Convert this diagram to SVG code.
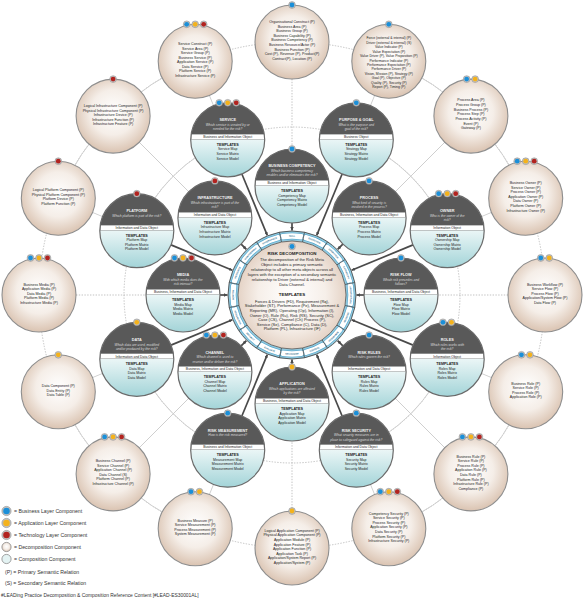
<svg xmlns="http://www.w3.org/2000/svg" xmlns:xlink="http://www.w3.org/1999/xlink" width="584" height="599" viewBox="0 0 584 599">
<style>
text{font-family:"Liberation Sans",Arial,sans-serif;text-anchor:middle}
.ct{font-size:3.8px;font-weight:bold;fill:#f2f2f2}
.cq{font-size:3.3px;font-style:italic;fill:#dcdcdc}
.cb{font-size:3.4px;fill:#222}
.th{font-size:3.7px;font-weight:bold;fill:#222}
.tl{font-size:3.5px;fill:#222}
.dt{font-size:3.6px;fill:#222}
.lg{font-size:5.2px;fill:#333;text-anchor:start}
.rl{font-size:2.2px;font-weight:bold;fill:#2b6a8a}
.mt{font-size:4.4px;font-weight:bold;fill:#222}
.md{font-size:4px;fill:#222}
.arc-d{fill:none;stroke:#b4b4b4;stroke-width:.8;stroke-dasharray:1.4 1.4}
.arc-s{fill:none;stroke:#cdcdcd;stroke-width:.9}
.rad-d{stroke:#b4b4b4;stroke-width:.8;stroke-dasharray:1.4 1.4}
.rad-s{stroke:#cdcdcd;stroke-width:.9}
.thick{stroke:#4a4a4a;stroke-width:1.7;marker-end:url(#ah)}
.tick{stroke:#3f3f3f;stroke-width:.7}
</style>
<defs>
<radialGradient id="beige" cx="50%" cy="45%" r="55%"><stop offset="0" stop-color="#ffffff"/><stop offset=".55" stop-color="#f5eee8"/><stop offset="1" stop-color="#dac3b1"/></radialGradient>
<radialGradient id="beigeC" cx="50%" cy="50%" r="52%"><stop offset="0" stop-color="#ffffff"/><stop offset=".6" stop-color="#f6efe9"/><stop offset="1" stop-color="#e3d0c2"/></radialGradient>
<linearGradient id="teal" x1="0" y1="0" x2="0" y2="1"><stop offset=".45" stop-color="#f1f9f9"/><stop offset="1" stop-color="#a3d4d8"/></linearGradient>
<marker id="ah" viewBox="0 0 6 6" refX="6" refY="3" markerWidth="3.5" markerHeight="3.5" markerUnits="userSpaceOnUse" orient="auto"><path d="M0,0 L6,3 L0,6 z" fill="#4a4a4a"/></marker>
<g id="comp">
<circle r="37" fill="url(#teal)"/>
<path d="M-36.59,-5.5 A37,37 0 0 1 36.59,-5.5 Z" fill="#595959"/>
<rect x="-36.6" y="-5.5" width="73.2" height="5" fill="#fff" stroke="#777" stroke-width=".4"/>
<circle r="37" fill="none" stroke="#6a6a6a" stroke-width="1.2"/>
</g>
<circle id="deco" r="37" fill="url(#beige)" stroke="#8e8e8e" stroke-width="1.1"/>
<g id="dB"><circle r="3.4" fill="#c4c4c4" stroke="#8a8a8a" stroke-width=".5"/><circle r="2.4" fill="#1b8fd8"/></g>
<g id="dY"><circle r="3.4" fill="#c4c4c4" stroke="#8a8a8a" stroke-width=".5"/><circle r="2.4" fill="#f4b21c"/></g>
<g id="dR"><circle r="3.4" fill="#c4c4c4" stroke="#8a8a8a" stroke-width=".5"/><circle r="2.4" fill="#b2231f"/></g>
<g id="pill"><path d="M282.77,236.73 A59,59 0 0 1 301.23,236.73" fill="none" stroke="#4a9fc8" stroke-width="6.4" stroke-linecap="round"/><path d="M282.77,236.73 A59,59 0 0 1 301.23,236.73" fill="none" stroke="#fff" stroke-width="5.4" stroke-linecap="round"/></g>
<path id="rcw" d="M292,353.2 A58.2,58.2 0 1 1 292,236.8 A58.2,58.2 0 1 1 292,353.2"/>
<path id="rccw" d="M292,235.2 A59.8,59.8 0 1 0 292,354.8 A59.8,59.8 0 1 0 292,235.2"/>
</defs>
<rect width="584" height="599" fill="#fff"/>

<g id="connectors">
<circle cx="292" cy="295" r="253" class="arc-d"/>
<path class="arc-s" d="M388.82,61.26 A253,253 0 0 1 525.74,198.18"/>
<path class="arc-s" d="M525.74,391.82 A253,253 0 0 1 388.82,528.74"/>
<path class="arc-s" d="M195.18,528.74 A253,253 0 0 1 58.26,391.82"/>
<path class="arc-s" d="M58.26,198.18 A253,253 0 0 1 195.18,61.26"/>
<circle cx="292" cy="295" r="168" class="arc-d"/>
<path class="arc-s" d="M356.29,139.79 A168,168 0 0 1 447.21,230.71"/>
<path class="arc-s" d="M447.21,359.29 A168,168 0 0 1 356.29,450.21"/>
<path class="arc-s" d="M227.71,450.21 A168,168 0 0 1 136.79,359.29"/>
<path class="arc-s" d="M136.79,230.71 A168,168 0 0 1 227.71,139.79"/>
<line class="rad-d" x1="292" y1="79" x2="292" y2="149"/>
<line class="rad-d" x1="292" y1="79" x2="292" y2="149" transform="rotate(90 292 295)"/>
<line class="rad-d" x1="292" y1="79" x2="292" y2="149" transform="rotate(180 292 295)"/>
<line class="rad-d" x1="292" y1="79" x2="292" y2="149" transform="rotate(270 292 295)"/>
<line class="rad-s" x1="292" y1="79" x2="292" y2="149" transform="rotate(45 292 295)"/>
<line class="rad-s" x1="292" y1="79" x2="292" y2="149" transform="rotate(135 292 295)"/>
<line class="rad-s" x1="292" y1="79" x2="292" y2="149" transform="rotate(225 292 295)"/>
<line class="rad-s" x1="292" y1="79" x2="292" y2="149" transform="rotate(315 292 295)"/>
<line class="rad-s" x1="292" y1="79" x2="292" y2="90" transform="rotate(22.5 292 295)"/>
<line class="rad-s" x1="292" y1="79" x2="292" y2="90" transform="rotate(67.5 292 295)"/>
<line class="rad-s" x1="292" y1="79" x2="292" y2="90" transform="rotate(112.5 292 295)"/>
<line class="rad-s" x1="292" y1="79" x2="292" y2="90" transform="rotate(157.5 292 295)"/>
<line class="rad-s" x1="292" y1="79" x2="292" y2="90" transform="rotate(202.5 292 295)"/>
<line class="rad-s" x1="292" y1="79" x2="292" y2="90" transform="rotate(247.5 292 295)"/>
<line class="rad-s" x1="292" y1="79" x2="292" y2="90" transform="rotate(292.5 292 295)"/>
<line class="rad-s" x1="292" y1="79" x2="292" y2="90" transform="rotate(337.5 292 295)"/>
<line class="thick" x1="292" y1="164" x2="292" y2="230.5" transform="rotate(22.5 292 295)"/>
<line class="thick" x1="292" y1="164" x2="292" y2="230.5" transform="rotate(67.5 292 295)"/>
<line class="thick" x1="292" y1="164" x2="292" y2="230.5" transform="rotate(112.5 292 295)"/>
<line class="thick" x1="292" y1="164" x2="292" y2="230.5" transform="rotate(157.5 292 295)"/>
<line class="thick" x1="292" y1="164" x2="292" y2="230.5" transform="rotate(202.5 292 295)"/>
<line class="thick" x1="292" y1="164" x2="292" y2="230.5" transform="rotate(247.5 292 295)"/>
<line class="thick" x1="292" y1="164" x2="292" y2="230.5" transform="rotate(292.5 292 295)"/>
<line class="thick" x1="292" y1="164" x2="292" y2="230.5" transform="rotate(337.5 292 295)"/>
<line class="thick" x1="292" y1="222" x2="292" y2="230.5"/>
<line class="thick" x1="292" y1="222" x2="292" y2="230.5" transform="rotate(45 292 295)"/>
<line class="thick" x1="292" y1="222" x2="292" y2="230.5" transform="rotate(90 292 295)"/>
<line class="thick" x1="292" y1="222" x2="292" y2="230.5" transform="rotate(135 292 295)"/>
<line class="thick" x1="292" y1="222" x2="292" y2="230.5" transform="rotate(180 292 295)"/>
<line class="thick" x1="292" y1="222" x2="292" y2="230.5" transform="rotate(225 292 295)"/>
<line class="thick" x1="292" y1="222" x2="292" y2="230.5" transform="rotate(270 292 295)"/>
<line class="thick" x1="292" y1="222" x2="292" y2="230.5" transform="rotate(315 292 295)"/>
</g>

<g id="n-center">
<circle cx="292" cy="295" r="64" fill="#8fc9df" stroke="#4d4d4d" stroke-width=".9"/>
<use href="#pill"/>
<use href="#pill" transform="rotate(22.5 292 295)"/>
<use href="#pill" transform="rotate(45 292 295)"/>
<use href="#pill" transform="rotate(67.5 292 295)"/>
<use href="#pill" transform="rotate(90 292 295)"/>
<use href="#pill" transform="rotate(112.5 292 295)"/>
<use href="#pill" transform="rotate(135 292 295)"/>
<use href="#pill" transform="rotate(157.5 292 295)"/>
<use href="#pill" transform="rotate(180 292 295)"/>
<use href="#pill" transform="rotate(202.5 292 295)"/>
<use href="#pill" transform="rotate(225 292 295)"/>
<use href="#pill" transform="rotate(247.5 292 295)"/>
<use href="#pill" transform="rotate(270 292 295)"/>
<use href="#pill" transform="rotate(292.5 292 295)"/>
<use href="#pill" transform="rotate(315 292 295)"/>
<use href="#pill" transform="rotate(337.5 292 295)"/>
<g class="tick">
<line x1="292" y1="241" x2="292" y2="231" transform="rotate(11.25 292 295)"/>
<line x1="292" y1="241" x2="292" y2="231" transform="rotate(33.75 292 295)"/>
<line x1="292" y1="241" x2="292" y2="231" transform="rotate(56.25 292 295)"/>
<line x1="292" y1="241" x2="292" y2="231" transform="rotate(78.75 292 295)"/>
<line x1="292" y1="241" x2="292" y2="231" transform="rotate(101.25 292 295)"/>
<line x1="292" y1="241" x2="292" y2="231" transform="rotate(123.75 292 295)"/>
<line x1="292" y1="241" x2="292" y2="231" transform="rotate(146.25 292 295)"/>
<line x1="292" y1="241" x2="292" y2="231" transform="rotate(168.75 292 295)"/>
<line x1="292" y1="241" x2="292" y2="231" transform="rotate(191.25 292 295)"/>
<line x1="292" y1="241" x2="292" y2="231" transform="rotate(213.75 292 295)"/>
<line x1="292" y1="241" x2="292" y2="231" transform="rotate(236.25 292 295)"/>
<line x1="292" y1="241" x2="292" y2="231" transform="rotate(258.75 292 295)"/>
<line x1="292" y1="241" x2="292" y2="231" transform="rotate(281.25 292 295)"/>
<line x1="292" y1="241" x2="292" y2="231" transform="rotate(303.75 292 295)"/>
<line x1="292" y1="241" x2="292" y2="231" transform="rotate(326.25 292 295)"/>
<line x1="292" y1="241" x2="292" y2="231" transform="rotate(348.75 292 295)"/>
</g>
<text class="rl"><textPath href="#rcw" startOffset="25%">MONITOR</textPath></text>
<text class="rl"><textPath href="#rcw" startOffset="31.25%">RESOURCE</textPath></text>
<text class="rl"><textPath href="#rcw" startOffset="37.5%">MANAGEMENT</textPath></text>
<text class="rl"><textPath href="#rcw" startOffset="43.75%">GOVERNANCE</textPath></text>
<text class="rl"><textPath href="#rcw" startOffset="50%">SKILL</textPath></text>
<text class="rl"><textPath href="#rcw" startOffset="56.25%">EXECUTION</textPath></text>
<text class="rl"><textPath href="#rcw" startOffset="62.5%">OPERATION</textPath></text>
<text class="rl"><textPath href="#rcw" startOffset="68.75%">CAPABILITY</textPath></text>
<text class="rl"><textPath href="#rcw" startOffset="75%">ARCHITECTURE</textPath></text>
<text class="rl"><textPath href="#rccw" startOffset="68.75%">MEASURE</textPath></text>
<text class="rl"><textPath href="#rccw" startOffset="62.5%">ASSURANCE</textPath></text>
<text class="rl"><textPath href="#rccw" startOffset="56.25%">CONTROL</textPath></text>
<text class="rl"><textPath href="#rccw" startOffset="50%">MECHANISM</textPath></text>
<text class="rl"><textPath href="#rccw" startOffset="43.75%">EVALUATE</textPath></text>
<text class="rl"><textPath href="#rccw" startOffset="37.5%">SECURITY</textPath></text>
<text class="rl"><textPath href="#rccw" startOffset="31.25%">INTEGRATION</textPath></text>
<circle cx="292" cy="295" r="54" fill="url(#beigeC)" stroke="#555" stroke-width=".8"/>
<use href="#dB" x="292" y="246.5"/>
<text class="mt" x="292" y="254.6">RISK DECOMPOSITION</text>
<text class="md"><tspan x="292" y="260.7">The decomposition of the Risk Meta</tspan><tspan x="292" y="265.7">Object includes a primary semantic</tspan><tspan x="292" y="270.7">relationship to all other meta objects across all</tspan><tspan x="292" y="275.7">layers with the exception of a secondary semantic</tspan><tspan x="292" y="280.7">relationship to Driver (external &amp; internal) and</tspan><tspan x="292" y="285.7">Data Channel.</tspan></text>
<text class="mt" x="292" y="296.2">TEMPLATES</text>
<text class="md"><tspan x="292" y="302.7">Forces &amp; Drivers (FD), Requirement (Rq),</tspan><tspan x="292" y="307.3">Stakeholder (ST), Performance (Pe), Measurement &amp;</tspan><tspan x="292" y="311.9">Reporting (MR), Operating (Op), Information (I),</tspan><tspan x="292" y="316.5">Owner (O), Rule (Ru), Risk (RS), Security (SC),</tspan><tspan x="292" y="321.1">Case (CS), Channel (Ch) Process (P),</tspan><tspan x="292" y="325.7">Service (Se), Compliance (C), Data (D),</tspan><tspan x="292" y="330.3">Platform (PL), Infrastructure (IF)</tspan></text>
</g>

<g id="n-competency" transform="translate(292,186)"><use href="#comp"/><use href="#dB" y="-37"/>
<text class="ct" y="-18.6">BUSINESS COMPETENCY</text>
<text class="cq"><tspan x="0" y="-13.8">Which business competency</tspan><tspan x="0" y="-9.6">enables and/or eliminates the risk?</tspan></text>
<text class="cb" y="-1.8">Business and Information Object</text>
<text class="th" y="6">TEMPLATES</text>
<text class="tl"><tspan x="0" y="10.6">Competency Map</tspan><tspan x="0" y="15.2">Competency Matrix</tspan><tspan x="0" y="19.8">Competency Model</tspan></text></g>

<g id="n-purpose" transform="translate(356.3,139.8)"><use href="#comp"/><use href="#dB" y="-37"/>
<text class="ct" y="-18.6">PURPOSE &amp; GOAL</text>
<text class="cq"><tspan x="0" y="-13.8">What is the purpose and</tspan><tspan x="0" y="-9.6">goal of the risk?</tspan></text>
<text class="cb" y="-1.8">Business Object</text>
<text class="th" y="6">TEMPLATES</text>
<text class="tl"><tspan x="0" y="10.6">Strategy Map</tspan><tspan x="0" y="15.2">Strategy Matrix</tspan><tspan x="0" y="19.8">Strategy Model</tspan></text></g>

<g id="n-process" transform="translate(369.1,217.9)"><use href="#comp"/><use href="#dB" y="-37"/>
<text class="ct" y="-18.6">PROCESS</text>
<text class="cq"><tspan x="0" y="-13.8">What kind of security is</tspan><tspan x="0" y="-9.6">involved in the process?</tspan></text>
<text class="cb" y="-1.8">Business, Information and Data Object</text>
<text class="th" y="6">TEMPLATES</text>
<text class="tl"><tspan x="0" y="10.6">Process Map</tspan><tspan x="0" y="15.2">Process Matrix</tspan><tspan x="0" y="19.8">Process Model</tspan></text></g>

<g id="n-owner" transform="translate(447.2,230.7)"><use href="#comp"/><use href="#dB" x="-8.5" y="-37"/><use href="#dY" y="-37"/><use href="#dR" x="8.5" y="-37"/>
<text class="ct" y="-18.6">OWNER</text>
<text class="cq"><tspan x="0" y="-13.8">Who is the owner of the</tspan><tspan x="0" y="-9.6">risk?</tspan></text>
<text class="cb" y="-1.8">Information Object</text>
<text class="th" y="6">TEMPLATES</text>
<text class="tl"><tspan x="0" y="10.6">Ownership Map</tspan><tspan x="0" y="15.2">Ownership Matrix</tspan><tspan x="0" y="19.8">Ownership Model</tspan></text></g>

<g id="n-riskflow" transform="translate(401,295)"><use href="#comp"/><use href="#dB" y="-37"/>
<text class="ct" y="-18.6">RISK FLOW</text>
<text class="cq"><tspan x="0" y="-13.8">Which risk precedes and</tspan><tspan x="0" y="-9.6">follows?</tspan></text>
<text class="cb" y="-1.8">Business, Information and Data Object</text>
<text class="th" y="6">TEMPLATES</text>
<text class="tl"><tspan x="0" y="10.6">Flow Map</tspan><tspan x="0" y="15.2">Flow Matrix</tspan><tspan x="0" y="19.8">Flow Model</tspan></text></g>

<g id="n-roles" transform="translate(447.2,359.3)"><use href="#comp"/><use href="#dB" x="-4.25" y="-37"/><use href="#dY" x="4.25" y="-37"/>
<text class="ct" y="-18.6">ROLES</text>
<text class="cq"><tspan x="0" y="-13.8">Which roles works with</tspan><tspan x="0" y="-9.6">the risk?</tspan></text>
<text class="cb" y="-1.8">Information Object</text>
<text class="th" y="6">TEMPLATES</text>
<text class="tl"><tspan x="0" y="10.6">Roles Map</tspan><tspan x="0" y="15.2">Roles Matrix</tspan><tspan x="0" y="19.8">Roles Model</tspan></text></g>

<g id="n-riskrules" transform="translate(369.1,372.1)"><use href="#comp"/><use href="#dB" y="-37"/>
<text class="ct" y="-18.6">RISK RULES</text>
<text class="cq"><tspan x="0" y="-13.8">Which rules govern the risk?</tspan></text>
<text class="cb" y="-1.8">Information and Data Object</text>
<text class="th" y="6">TEMPLATES</text>
<text class="tl"><tspan x="0" y="10.6">Rules Map</tspan><tspan x="0" y="15.2">Rules Matrix</tspan><tspan x="0" y="19.8">Rules Model</tspan></text></g>

<g id="n-security" transform="translate(356.3,450.2)"><use href="#comp"/><use href="#dB" y="-37"/>
<text class="ct" y="-18.6">RISK SECURITY</text>
<text class="cq"><tspan x="0" y="-13.8">What security measures are in</tspan><tspan x="0" y="-9.6">place to safeguard against the risk?</tspan></text>
<text class="cb" y="-1.8">Information and Data Object</text>
<text class="th" y="6">TEMPLATES</text>
<text class="tl"><tspan x="0" y="10.6">Security Map</tspan><tspan x="0" y="15.2">Security Matrix</tspan><tspan x="0" y="19.8">Security Model</tspan></text></g>

<g id="n-application" transform="translate(292,404)"><use href="#comp"/><use href="#dY" y="-37"/>
<text class="ct" y="-18.6">APPLICATION</text>
<text class="cq"><tspan x="0" y="-13.8">Which applications are affected</tspan><tspan x="0" y="-9.6">by the risk?</tspan></text>
<text class="cb" y="-1.8">Business, Information and Data Object</text>
<text class="th" y="6">TEMPLATES</text>
<text class="tl"><tspan x="0" y="10.6">Application Map</tspan><tspan x="0" y="15.2">Application Matrix</tspan><tspan x="0" y="19.8">Application Model</tspan></text></g>

<g id="n-measurement" transform="translate(227.7,450.2)"><use href="#comp"/><use href="#dB" y="-37"/>
<text class="ct" y="-18.6">RISK MEASUREMENT</text>
<text class="cq"><tspan x="0" y="-13.8">How is the risk measured?</tspan></text>
<text class="cb" y="-1.8">Business and Information Object</text>
<text class="th" y="6">TEMPLATES</text>
<text class="tl"><tspan x="0" y="10.6">Measurement Map</tspan><tspan x="0" y="15.2">Measurement Matrix</tspan><tspan x="0" y="19.8">Measurement Model</tspan></text></g>

<g id="n-channel" transform="translate(214.9,372.1)"><use href="#comp"/><use href="#dB" x="-8.5" y="-37"/><use href="#dY" y="-37"/><use href="#dR" x="8.5" y="-37"/>
<text class="ct" y="-18.6">CHANNEL</text>
<text class="cq"><tspan x="0" y="-13.8">Which channel is used to</tspan><tspan x="0" y="-9.6">receive and/or deliver the risk?</tspan></text>
<text class="cb" y="-1.8">Business, Information and Data Object</text>
<text class="th" y="6">TEMPLATES</text>
<text class="tl"><tspan x="0" y="10.6">Channel Map</tspan><tspan x="0" y="15.2">Channel Matrix</tspan><tspan x="0" y="19.8">Channel Model</tspan></text></g>

<g id="n-data" transform="translate(136.8,359.3)"><use href="#comp"/><use href="#dY" y="-37"/>
<text class="ct" y="-18.6">DATA</text>
<text class="cq"><tspan x="0" y="-13.8">Which data are used, modified</tspan><tspan x="0" y="-9.6">and/or produced by the risk?</tspan></text>
<text class="cb" y="-1.8">Information and Data Object</text>
<text class="th" y="6">TEMPLATES</text>
<text class="tl"><tspan x="0" y="10.6">Data Map</tspan><tspan x="0" y="15.2">Data Matrix</tspan><tspan x="0" y="19.8">Data Model</tspan></text></g>

<g id="n-media" transform="translate(183,295)"><use href="#comp"/><use href="#dB" x="-8.5" y="-37"/><use href="#dY" y="-37"/><use href="#dR" x="8.5" y="-37"/>
<text class="ct" y="-18.6">MEDIA</text>
<text class="cq"><tspan x="0" y="-13.8">With which media does the</tspan><tspan x="0" y="-9.6">risk interact?</tspan></text>
<text class="cb" y="-1.8">Business, Information and Data Object</text>
<text class="th" y="6">TEMPLATES</text>
<text class="tl"><tspan x="0" y="10.6">Media Map</tspan><tspan x="0" y="15.2">Media Matrix</tspan><tspan x="0" y="19.8">Media Model</tspan></text></g>

<g id="n-platform" transform="translate(136.8,230.7)"><use href="#comp"/><use href="#dR" y="-37"/>
<text class="ct" y="-18.6">PLATFORM</text>
<text class="cq"><tspan x="0" y="-13.8">Which platform is part of the risk?</tspan></text>
<text class="cb" y="-1.8">Information and Data Object</text>
<text class="th" y="6">TEMPLATES</text>
<text class="tl"><tspan x="0" y="10.6">Platform Map</tspan><tspan x="0" y="15.2">Platform Matrix</tspan><tspan x="0" y="19.8">Platform Model</tspan></text></g>

<g id="n-infrastructure" transform="translate(214.9,217.9)"><use href="#comp"/><use href="#dR" y="-37"/>
<text class="ct" y="-18.6">INFRASTRUCTURE</text>
<text class="cq"><tspan x="0" y="-13.8">Which infrastructure is part of the</tspan><tspan x="0" y="-9.6">risk?</tspan></text>
<text class="cb" y="-1.8">Information and Data Object</text>
<text class="th" y="6">TEMPLATES</text>
<text class="tl"><tspan x="0" y="10.6">Infrastructure Map</tspan><tspan x="0" y="15.2">Infrastructure Matrix</tspan><tspan x="0" y="19.8">Infrastructure Model</tspan></text></g>

<g id="n-service" transform="translate(227.7,139.8)"><use href="#comp"/><use href="#dB" x="-8.5" y="-37"/><use href="#dY" y="-37"/><use href="#dR" x="8.5" y="-37"/>
<text class="ct" y="-18.6">SERVICE</text>
<text class="cq"><tspan x="0" y="-13.8">Which service is created by or</tspan><tspan x="0" y="-9.6">needed for the risk?</tspan></text>
<text class="cb" y="-1.8">Business and Information Object</text>
<text class="th" y="6">TEMPLATES</text>
<text class="tl"><tspan x="0" y="10.6">Service Map</tspan><tspan x="0" y="15.2">Service Matrix</tspan><tspan x="0" y="19.8">Service Model</tspan></text></g>

<g id="d-organisation" transform="translate(292,42)"><use href="#deco"/><use href="#dB" y="-37"/>
<text class="dt"><tspan x="0" y="-19">Organisational Construct (P)</tspan><tspan x="0" dy="4.6">Business Area (P)</tspan><tspan x="0" dy="4.6">Business Group (P)</tspan><tspan x="0" dy="4.6">Business Capability (P)</tspan><tspan x="0" dy="4.6">Business Competency (P)</tspan><tspan x="0" dy="4.6">Business Resource/Actor (P)</tspan><tspan x="0" dy="4.6">Business Function (P)</tspan><tspan x="0" dy="4.6">Cost (P), Revenue (P), Product(P)</tspan><tspan x="0" dy="4.6">Contract(P), Location (P)</tspan></text></g>

<g id="d-force" transform="translate(388.8,61.3)"><use href="#deco"/><use href="#dB" y="-37"/>
<text class="dt" style="font-size:3.4px"><tspan x="0" y="-22">Force (external &amp; internal) (P)</tspan><tspan x="0" dy="4.45">Driver (external &amp; internal) (S)</tspan><tspan x="0" dy="4.45">Value Indicator (P)</tspan><tspan x="0" dy="4.45">Value Expectation (P)</tspan><tspan x="0" dy="4.45">Value Driver (P), Value Proposition (P)</tspan><tspan x="0" dy="4.45">Performance Indicator (P)</tspan><tspan x="0" dy="4.45">Performance Expectation (P)</tspan><tspan x="0" dy="4.45">Performance Driver (P)</tspan><tspan x="0" dy="4.45">Vision, Mission (P), Strategy (P)</tspan><tspan x="0" dy="4.45">Goal (P), Objective (P)</tspan><tspan x="0" dy="4.45">Quality (P), Security (P)</tspan><tspan x="0" dy="4.45">Report (P), Timing (P)</tspan></text></g>

<g id="d-processarea" transform="translate(470.9,116.1)"><use href="#deco"/><use href="#dB" x="-4.25" y="-37"/><use href="#dY" x="4.25" y="-37"/>
<text class="dt"><tspan x="0" y="-14.8">Process Area (P)</tspan><tspan x="0" dy="4.7">Process Group (P)</tspan><tspan x="0" dy="4.7">Business Process (P)</tspan><tspan x="0" dy="4.7">Process Step (P)</tspan><tspan x="0" dy="4.7">Process Activity (P)</tspan><tspan x="0" dy="4.7">Event (P)</tspan><tspan x="0" dy="4.7">Gateway (P)</tspan></text></g>

<g id="d-owner" transform="translate(525.7,198.2)"><use href="#deco"/><use href="#dB" x="-8.5" y="-37"/><use href="#dY" y="-37"/><use href="#dR" x="8.5" y="-37"/>
<text class="dt"><tspan x="0" y="-13.9">Business Owner (P)</tspan><tspan x="0" dy="4.55">Service Owner (P)</tspan><tspan x="0" dy="4.55">Process Owner (P)</tspan><tspan x="0" dy="4.55">Application Owner (P)</tspan><tspan x="0" dy="4.55">Data Owner (P)</tspan><tspan x="0" dy="4.55">Platform Owner (P)</tspan><tspan x="0" dy="4.55">Infrastructure Owner (P)</tspan></text></g>

<g id="d-workflow" transform="translate(545,295)"><use href="#deco"/><use href="#dB" x="-4.25" y="-37"/><use href="#dY" x="4.25" y="-37"/>
<text class="dt"><tspan x="0" y="-9.3">Business Workflow (P)</tspan><tspan x="0" dy="4.55">Service Flow (P)</tspan><tspan x="0" dy="4.55">Process Flow (P)</tspan><tspan x="0" dy="4.55">Application/System Flow (P)</tspan><tspan x="0" dy="4.55">Data Flow (P)</tspan></text></g>

<g id="d-role" transform="translate(525.7,391.8)"><use href="#deco"/><use href="#dB" x="-4.25" y="-37"/><use href="#dY" x="4.25" y="-37"/>
<text class="dt"><tspan x="0" y="-7">Business Role (P)</tspan><tspan x="0" dy="4.55">Service Role (P)</tspan><tspan x="0" dy="4.55">Process Role (P)</tspan><tspan x="0" dy="4.55">Application Role (P)</tspan></text></g>

<g id="d-rule" transform="translate(470.9,473.9)"><use href="#deco"/><use href="#dB" x="-8.5" y="-37"/><use href="#dY" y="-37"/><use href="#dR" x="8.5" y="-37"/>
<text class="dt"><tspan x="0" y="-16.1">Business Rule (P)</tspan><tspan x="0" dy="4.55">Service Rule (P)</tspan><tspan x="0" dy="4.55">Process Rule (P)</tspan><tspan x="0" dy="4.55">Application Rule (P)</tspan><tspan x="0" dy="4.55">Data Rule (P)</tspan><tspan x="0" dy="4.55">Platform Rule (P)</tspan><tspan x="0" dy="4.55">Infrastructure Rule (P)</tspan><tspan x="0" dy="4.55">Compliance (P)</tspan></text></g>

<g id="d-security" transform="translate(388.8,528.7)"><use href="#deco"/><use href="#dB" x="-8.5" y="-37"/><use href="#dY" y="-37"/><use href="#dR" x="8.5" y="-37"/>
<text class="dt"><tspan x="0" y="-13.9">Competency Security (P)</tspan><tspan x="0" dy="4.55">Service Security (P)</tspan><tspan x="0" dy="4.55">Process Security (P)</tspan><tspan x="0" dy="4.55">Application Security (P)</tspan><tspan x="0" dy="4.55">Data Security (P)</tspan><tspan x="0" dy="4.55">Platform Security (P)</tspan><tspan x="0" dy="4.55">Infrastructure Security (P)</tspan></text></g>

<g id="d-application" transform="translate(292,548)"><use href="#deco"/><use href="#dY" y="-37"/>
<text class="dt"><tspan x="0" y="-16.1">Logical Application Component (P)</tspan><tspan x="0" dy="4.55">Physical Application Component (P)</tspan><tspan x="0" dy="4.55">Application Module (P)</tspan><tspan x="0" dy="4.55">Application Feature (P)</tspan><tspan x="0" dy="4.55">Application Function (P)</tspan><tspan x="0" dy="4.55">Application Task (P)</tspan><tspan x="0" dy="4.55">Application/System Report (P)</tspan><tspan x="0" dy="4.55">Application/System (P)</tspan></text></g>

<g id="d-measure" transform="translate(195.2,528.7)"><use href="#deco"/><use href="#dB" x="-4.25" y="-37"/><use href="#dY" x="4.25" y="-37"/>
<text class="dt"><tspan x="0" y="-7">Business Measure (P)</tspan><tspan x="0" dy="4.55">Service Measurement (P)</tspan><tspan x="0" dy="4.55">Process Measurement (P)</tspan><tspan x="0" dy="4.55">System Measurement (P)</tspan></text></g>

<g id="d-channel" transform="translate(113.1,473.9)"><use href="#deco"/><use href="#dB" x="-8.5" y="-37"/><use href="#dY" y="-37"/><use href="#dR" x="8.5" y="-37"/>
<text class="dt"><tspan x="0" y="-11.6">Business Channel (P)</tspan><tspan x="0" dy="4.55">Service Channel (P)</tspan><tspan x="0" dy="4.55">Application Channel (P)</tspan><tspan x="0" dy="4.55">Data Channel (S)</tspan><tspan x="0" dy="4.55">Platform Channel (P)</tspan><tspan x="0" dy="4.55">Infrastructure Channel (P)</tspan></text></g>

<g id="d-data" transform="translate(58.3,391.8)"><use href="#deco"/><use href="#dY" y="-37"/>
<text class="dt"><tspan x="0" y="-4.75">Data Component  (P)</tspan><tspan x="0" dy="4.55">Data Entity (P)</tspan><tspan x="0" dy="4.55">Data Table (P)</tspan></text></g>

<g id="d-media" transform="translate(39,295)"><use href="#deco"/><use href="#dB" x="-8.5" y="-37"/><use href="#dY" y="-37"/><use href="#dR" x="8.5" y="-37"/>
<text class="dt"><tspan x="0" y="-9.3">Business Media (P)</tspan><tspan x="0" dy="4.55">Application Media (P)</tspan><tspan x="0" dy="4.55">Data Media (P)</tspan><tspan x="0" dy="4.55">Platform Media (P)</tspan><tspan x="0" dy="4.55">Infrastructure Media (P)</tspan></text></g>

<g id="d-platform" transform="translate(58.3,198.2)"><use href="#deco"/><use href="#dR" y="-37"/>
<text class="dt"><tspan x="0" y="-7">Logical Platform Component (P)</tspan><tspan x="0" dy="4.55">Physical Platform Component (P)</tspan><tspan x="0" dy="4.55">Platform Device (P)</tspan><tspan x="0" dy="4.55">Platform Function (P)</tspan></text></g>

<g id="d-infrastructure" transform="translate(113.1,116.1)"><use href="#deco"/><use href="#dR" y="-37"/>
<text class="dt"><tspan x="0" y="-8.8">Logical Infrastructure Component (P)</tspan><tspan x="0" dy="4.5">Physical Infrastructure Component (P)</tspan><tspan x="0" dy="4.5">Infrastructure Device (P)</tspan><tspan x="0" dy="4.5">Infrastructure Function (P)</tspan><tspan x="0" dy="4.5">Infrastructure Feature (P)</tspan></text></g>

<g id="d-service" transform="translate(195.2,61.3)"><use href="#deco"/><use href="#dB" x="-8.5" y="-37"/><use href="#dY" y="-37"/><use href="#dR" x="8.5" y="-37"/>
<text class="dt"><tspan x="0" y="-16.1">Service Construct (P)</tspan><tspan x="0" dy="4.55">Service Area (P)</tspan><tspan x="0" dy="4.55">Service Group (P)</tspan><tspan x="0" dy="4.55">Business Service (P)</tspan><tspan x="0" dy="4.55">Application Service (P)</tspan><tspan x="0" dy="4.55">Data Service (P)</tspan><tspan x="0" dy="4.55">Platform Service (P)</tspan><tspan x="0" dy="4.55">Infrastructure Service (P)</tspan></text></g>

<g id="legend">
<circle cx="6.5" cy="511" r="4.6" fill="#c4c4c4" stroke="#8a8a8a" stroke-width=".6"/><circle cx="6.5" cy="511" r="3.3" fill="#1b8fd8"/>
<circle cx="6.5" cy="523" r="4.6" fill="#c4c4c4" stroke="#8a8a8a" stroke-width=".6"/><circle cx="6.5" cy="523" r="3.3" fill="#f4b21c"/>
<circle cx="6.5" cy="535" r="4.6" fill="#c4c4c4" stroke="#8a8a8a" stroke-width=".6"/><circle cx="6.5" cy="535" r="3.3" fill="#b2231f"/>
<circle cx="6.5" cy="547" r="4.6" fill="url(#beige)" stroke="#8a8a8a" stroke-width=".8"/>
<circle cx="6.5" cy="559" r="4.6" fill="#e4f3f3" stroke="#8a8a8a" stroke-width=".8"/>
<text class="lg" x="14" y="512.8">= Business Layer Component</text>
<text class="lg" x="14" y="524.8">= Application Layer Component</text>
<text class="lg" x="14" y="536.8">= Technology Layer Component</text>
<text class="lg" x="14" y="548.8">= Decomposition Component</text>
<text class="lg" x="14" y="560.8">= Composition Component</text>
<text class="lg" x="5" y="573.5">(P) = Primary Semantic Relation</text>
<text class="lg" x="5" y="585.3">(S) = Secondary Semantic Relation</text>
<text class="lg" x="1" y="596.6" style="font-size:4.9px">#LEADing Practice Decomposition &amp; Composition Reference Content [#LEAD-ES30001AL]</text>
</g>
</svg>
